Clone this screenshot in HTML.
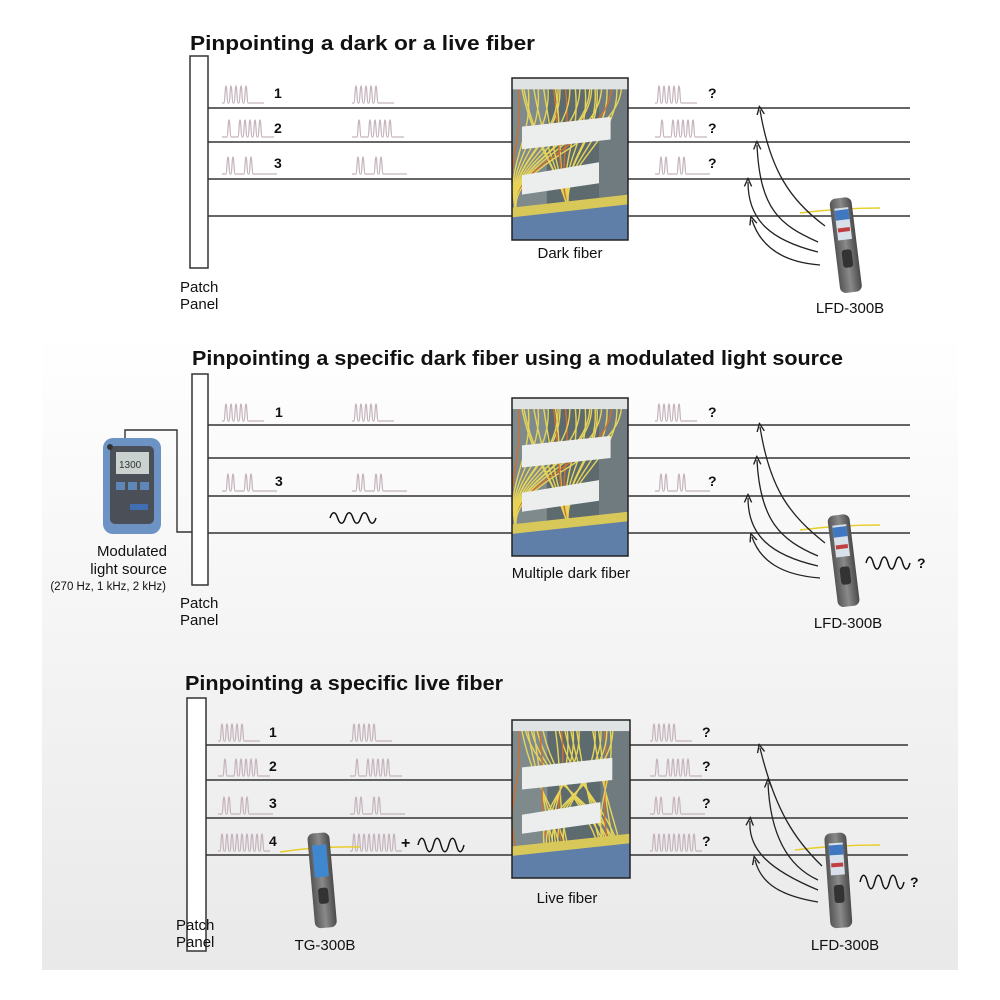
<!DOCTYPE html>
<html><head><meta charset="utf-8"><style>
html,body{margin:0;padding:0;background:#fff}
svg{display:block}
text{font-family:"Liberation Sans",sans-serif;fill:#111}
.t{font-weight:bold;font-size:20px}
.l{font-size:15px}
.n{font-weight:bold;font-size:14px}
</style></head><body>
<svg id="s" width="1000" height="1000" viewBox="0 0 1000 1000" xmlns="http://www.w3.org/2000/svg">
<defs>
<linearGradient id="bg" x1="0" y1="0" x2="0" y2="1">
<stop offset="0" stop-color="#fff"/><stop offset="0.18" stop-color="#fbfbfb"/><stop offset="1" stop-color="#e9e9e9"/>
</linearGradient>
<linearGradient id="dev" x1="0" y1="0" x2="1" y2="0">
<stop offset="0" stop-color="#555"/><stop offset="0.5" stop-color="#8a8a8a"/><stop offset="1" stop-color="#4a4a4a"/>
</linearGradient>
<marker id="ah" viewBox="0 0 10 10" refX="5" refY="5" markerWidth="7" markerHeight="7" orient="auto-start-reverse">
<path d="M0,1 L9,5 L0,9" fill="none" stroke="#222" stroke-width="1.5"/>
</marker>
</defs>
<rect x="42" y="330" width="916" height="640" fill="url(#bg)"/>

<text class="t" x="190" y="50" textLength="345" lengthAdjust="spacingAndGlyphs">Pinpointing a dark or a live fiber</text>
<text class="t" x="192" y="365" textLength="651" lengthAdjust="spacingAndGlyphs">Pinpointing a specific dark fiber using a modulated light source</text>
<text class="t" x="185" y="690" textLength="318" lengthAdjust="spacingAndGlyphs">Pinpointing a specific live fiber</text>

<g id="lines" stroke="#333" stroke-width="1.6"></g>

<rect x="190" y="56" width="18" height="212" fill="#fff" stroke="#333" stroke-width="1.5"/>
<rect x="192" y="374" width="16" height="211" fill="#fff" stroke="#333" stroke-width="1.5"/>
<rect x="187" y="698" width="19" height="253" fill="#fff" stroke="#333" stroke-width="1.5"/>

<text class="l" x="180" y="292">Patch</text><text class="l" x="180" y="309">Panel</text>
<text class="l" x="180" y="608">Patch</text><text class="l" x="180" y="625">Panel</text>
<text class="l" x="176" y="930">Patch</text><text class="l" x="176" y="947">Panel</text>

<text class="l" x="570" y="258" text-anchor="middle">Dark fiber</text>
<text class="l" x="571" y="578" text-anchor="middle">Multiple dark fiber</text>
<text class="l" x="567" y="903" text-anchor="middle">Live fiber</text>

<text class="l" x="850" y="313" text-anchor="middle">LFD-300B</text>
<text class="l" x="848" y="628" text-anchor="middle">LFD-300B</text>
<text class="l" x="845" y="950" text-anchor="middle">LFD-300B</text>
<text class="l" x="325" y="950" text-anchor="middle">TG-300B</text>

<text class="l" x="167" y="556" text-anchor="end">Modulated</text>
<text class="l" x="167" y="574" text-anchor="end">light source</text>
<text x="166" y="590" text-anchor="end" style="font-size:11.5px">(270 Hz, 1 kHz, 2 kHz)</text>

<text class="n" x="274" y="98">1</text><text class="n" x="274" y="133">2</text><text class="n" x="274" y="168">3</text>
<text class="n" x="275" y="417">1</text><text class="n" x="275" y="486">3</text>
<text class="n" x="269" y="737">1</text><text class="n" x="269" y="771">2</text><text class="n" x="269" y="808">3</text><text class="n" x="269" y="846">4</text>
<text class="n" x="708" y="98">?</text><text class="n" x="708" y="133">?</text><text class="n" x="708" y="168">?</text>
<text class="n" x="708" y="417">?</text><text class="n" x="708" y="486">?</text>
<text class="n" x="702" y="737">?</text><text class="n" x="702" y="771">?</text><text class="n" x="702" y="808">?</text><text class="n" x="702" y="846">?</text>
<text class="n" x="917" y="568">?</text><text class="n" x="910" y="887">?</text>
<text class="n" x="401" y="848" style="font-size:16px">+</text>

<g id="dyn"></g>

<path d="M125,440 L125,430 L177,430 L177,532 L192,532" fill="none" stroke="#333" stroke-width="1.4"/>
<g>
<rect x="103" y="438" width="58" height="96" rx="10" fill="#6d93c4"/>
<rect x="110" y="446" width="44" height="78" rx="5" fill="#4a4f58"/>
<rect x="116" y="452" width="33" height="22" fill="#c9d2cf"/>
<text x="119" y="468" style="font-size:10px;fill:#333">1300</text>
<rect x="116" y="482" width="9" height="8" fill="#5e86b8"/><rect x="128" y="482" width="9" height="8" fill="#5e86b8"/><rect x="140" y="482" width="9" height="8" fill="#5e86b8"/>
<rect x="130" y="504" width="18" height="6" fill="#3f6fb0"/>
<circle cx="110" cy="447" r="3" fill="#333"/>
</g>
</svg>
<script>
const NS="http://www.w3.org/2000/svg";
const s=document.getElementById('dyn');
const L=document.getElementById('lines');
function el(t,a,p){const e=document.createElementNS(NS,t);for(const k in a)e.setAttribute(k,a[k]);(p||s).appendChild(e);return e;}
const secs=[
 {ys:[108,142,179,216],x0:208,x1:910},
 {ys:[425,458,496,533],x0:208,x1:910},
 {ys:[745,780,818,855],x0:206,x1:908}
];
secs.forEach(sc=>sc.ys.forEach(y=>el('line',{x1:sc.x0,y1:y,x2:sc.x1,y2:y},L)));
function pulses(x,base,peaks,end){
 let d="M"+x+","+base;
 peaks.forEach(p=>{d+=" L"+(p-2.2)+","+base+" C"+(p-1)+","+base+" "+(p-1)+","+(base-17)+" "+p+","+(base-17)+" C"+(p+1)+","+(base-17)+" "+(p+1)+","+base+" "+(p+2.2)+","+base;});
 d+=" L"+end+","+base;
 el('path',{d:d,fill:'none',stroke:'#c4b3bc','stroke-width':1.2});
}
const P1=o=>[4,9,14,19,24].map(v=>v+o);
const P2=o=>[7,18,23,28,33,38].map(v=>v+o);
const P3=o=>[6,11,24,29].map(v=>v+o);
const P4=o=>[4,9,14,19,24,29,34,39,44].map(v=>v+o);
function grp(x,ys,types,ends){types.forEach((t,i)=>{const f=[P1,P2,P3,P4][t];pulses(x,ys[i],f(x),x+ends[t]);});}
grp(222,[103,137,174],[0,1,2],[42,52,55]);
grp(352,[103,137,174],[0,1,2],[42,52,55]);
grp(655,[103,137,174],[0,1,2],[42,52,55]);
grp(222,[421,491],[0,2],[42,52,55]);
grp(352,[421,491],[0,2],[42,52,55]);
grp(655,[421,491],[0,2],[42,52,55]);
grp(218,[741,776,814,851],[0,1,2,3],[42,52,55,52]);
grp(350,[741,776,814,851],[0,1,2,3],[42,52,55,52]);
grp(650,[741,776,814,851],[0,1,2,3],[42,52,55,52]);
function sine(x,y,w,n,h){let d="M"+x+","+y;const st=w/n;for(let i=0;i<n;i++){const a=x+i*st;d+=" C"+(a+st*0.15)+","+(y-h)+" "+(a+st*0.35)+","+(y-h)+" "+(a+st*0.5)+","+y+" C"+(a+st*0.65)+","+(y+h)+" "+(a+st*0.85)+","+(y+h)+" "+(a+st)+","+y;}el('path',{d:d,fill:'none',stroke:'#111','stroke-width':1.5});}
sine(330,518,46,3,7);
sine(418,845,46,3,9);
sine(866,563,44,3,8);
sine(860,882,44,3,9);
function photo(x,y,w,h){
 const g=el('g',{});
 el('rect',{x:x,y:y,width:w,height:h,fill:'#5d6a6e'},g);
 el('rect',{x:x,y:y,width:w*0.3,height:h,fill:'#7e8a8c'},g);
 el('rect',{x:x+w*0.75,y:y,width:w*0.25,height:h,fill:'#6f7b7f'},g);
 for(let i=0;i<26;i++){const sx=x+5+(i*37)%(w-10),ex=x+5+(i*53)%(w-10);
  el('path',{d:`M${sx},${y} C${sx+10},${y+h*0.4} ${ex-15},${y+h*0.5} ${ex},${y+h*0.85}`,fill:'none',stroke:i%7==0?'#d07030':'#e6d45a','stroke-width':1.4},g);}
 el('path',{d:`M${x+10},${y+h*0.3} L${x+w*0.85},${y+h*0.24} L${x+w*0.85},${y+h*0.38} L${x+10},${y+h*0.44}Z`,fill:'#eceeee'},g);
 el('path',{d:`M${x+10},${y+h*0.6} L${x+w*0.75},${y+h*0.52} L${x+w*0.75},${y+h*0.65} L${x+10},${y+h*0.72}Z`,fill:'#eceeee'},g);
 el('rect',{x:x,y:y,width:w,height:h*0.07,fill:'#dfe3e3'},g);
 el('path',{d:`M${x},${y+h*0.8} L${x+w},${y+h*0.72} L${x+w},${y+h} L${x},${y+h}Z`,fill:'#d8c85a'},g);
 el('path',{d:`M${x},${y+h*0.86} L${x+w},${y+h*0.78} L${x+w},${y+h} L${x},${y+h}Z`,fill:'#5f7ea8'},g);
 el('rect',{x:x,y:y,width:w,height:h,fill:'none',stroke:'#222','stroke-width':1.5},g);
}
photo(512,78,116,162);
photo(512,398,116,158);
photo(512,720,118,158);
function device(cx,top,len,rot,fy,fx0,fx1){
 el('path',{d:`M${fx0},${fy+3} Q${cx},${fy-2} ${fx1},${fy-2}`,fill:'none',stroke:'#e7cd2a','stroke-width':1.5});
 const g=el('g',{transform:`rotate(${rot} ${cx} ${top})`});
 el('rect',{x:cx-11,y:top,width:22,height:len,rx:6,fill:'url(#dev)'},g);
 el('rect',{x:cx-7,y:top+10,width:14,height:32,fill:'#d8e0ea'},g);
 el('rect',{x:cx-7,y:top+12,width:14,height:10,fill:'#3f78c0'},g);
 el('rect',{x:cx-6,y:top+30,width:12,height:4,fill:'#c04040'},g);
 el('rect',{x:cx-5,y:top+52,width:10,height:18,rx:3,fill:'#333'},g);
}
device(840,198,95,-7,210,800,880);
device(838,515,92,-7,527,800,880);
device(835,833,95,-4,847,795,880);
(function(){
 el('path',{d:'M280,852 Q318,846 360,847',fill:'none',stroke:'#e7cd2a','stroke-width':1.5});
 const g=el('g',{transform:'rotate(-5 318 833)'});
 el('rect',{x:307,y:833,width:22,height:95,rx:6,fill:'url(#dev)'},g);
 el('rect',{x:311,y:845,width:14,height:32,fill:'#3f88d0'},g);
 el('rect',{x:313,y:888,width:10,height:16,rx:3,fill:'#333'},g);
})();
function arr(d){el('path',{d:d,fill:'none',stroke:'#222','stroke-width':1.3,'marker-end':'url(#ah)'});}
arr('M825,226 C790,200 770,170 760,110');
arr('M818,242 C780,225 760,210 757,145');
arr('M818,252 C770,240 748,220 748,182');
arr('M820,265 C780,262 760,245 752,220');
arr('M825,543 C790,515 770,490 760,427');
arr('M818,556 C780,540 760,520 757,460');
arr('M818,566 C770,555 748,535 748,498');
arr('M820,578 C780,575 760,560 752,537');
arr('M822,866 C795,840 775,810 760,748');
arr('M818,880 C785,865 770,830 768,783');
arr('M818,890 C770,870 748,850 750,821');
arr('M818,902 C775,895 760,880 755,860');
</script>
</body></html>
